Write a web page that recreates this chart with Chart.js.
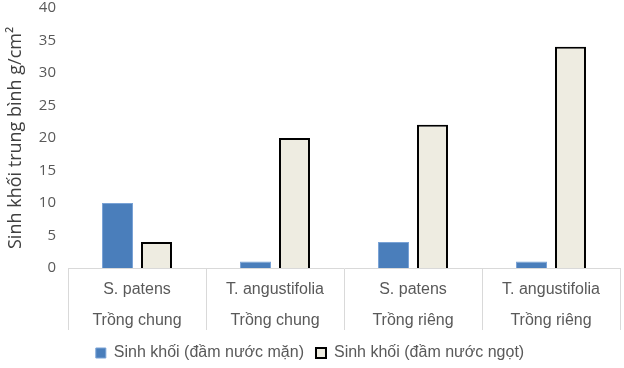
<!DOCTYPE html>
<html>
<head>
<meta charset="utf-8">
<script src="https://cdn.jsdelivr.net/npm/chart.js@4"></script>
<style>
  html, body { margin: 0; padding: 0; background: #fff; }
  #wrap { width: 624px; height: 368px; }
</style>
</head>
<body>
<div id="wrap"><canvas id="bieuDo"></canvas></div>
<script>
  // ==== Datos ====
  const loai = ['S. patens', 'T. angustifolia', 'S. patens', 'T. angustifolia'];
  const cachTrong = ['Trồng chung', 'Trồng chung', 'Trồng riêng', 'Trồng riêng'];
  const nuocMan = [10, 1, 4, 1];
  const nuocNgot = [4, 20, 22, 34];
  const tenChuoi = ['Sinh khối (đầm nước mặn)', 'Sinh khối (đầm nước ngọt)'];

  const nhan = loai.map((l, i) => [l, cachTrong[i]]);
  const grisTexto = '#595959';
  const grisLinea = '#d9d9d9';

  new Chart(document.getElementById('bieuDo'), {
    type: 'bar',
    data: {
      labels: nhan,
      datasets: [{
        label: tenChuoi[0],
        data: nuocMan,
        backgroundColor: '#4a7ebb',
        borderColor: '#7aa3d6',
        borderWidth: 1
      }, {
        label: tenChuoi[1],
        data: nuocNgot,
        backgroundColor: '#eeece1',
        borderColor: '#000000',
        borderWidth: 2
      }]
    },
    options: {
      responsive: true,
      maintainAspectRatio: false,
      animation: false,
      categoryPercentage: 0.565,
      barPercentage: 0.795,
      layout: { padding: { top: 0, right: 4, left: 0, bottom: -3 } },
      plugins: {
        legend: {
          position: 'bottom',
          labels: {
            color: grisTexto,
            font: { family: 'Liberation Sans', size: 16 },
            boxWidth: 10,
            boxHeight: 10,
            padding: 12
          }
        },
        tooltip: { enabled: false }
      },
      scales: {
        x: {
          offset: true,
          grid: {
            offset: true,
            drawOnChartArea: false,
            drawTicks: true,
            tickLength: 62,
            color: grisLinea
          },
          border: { display: true, color: grisLinea },
          ticks: {
            color: grisTexto,
            padding: -56,
            maxRotation: 0,
            font: { family: 'Liberation Sans', size: 16, lineHeight: 1.95 }
          },
          afterFit: (s) => { s.height = 65; }
        },
        y: {
          min: 0,
          max: 40,
          grid: { display: false },
          border: { display: false },
          ticks: {
            stepSize: 5,
            color: grisTexto,
            padding: 4,
            font: { family: 'Open Sans', size: 15, lineHeight: 0.5 }
          },
          title: {
            display: true,
            text: 'Sinh khối trung bình g/cm²',
            color: '#404040',
            padding: { top: 5, bottom: 0 },
            font: { family: 'Open Sans', size: 18 }
          },
          afterFit: (s) => { s.width = 68; }
        }
      }
    }
  });
</script>
</body>
</html>
